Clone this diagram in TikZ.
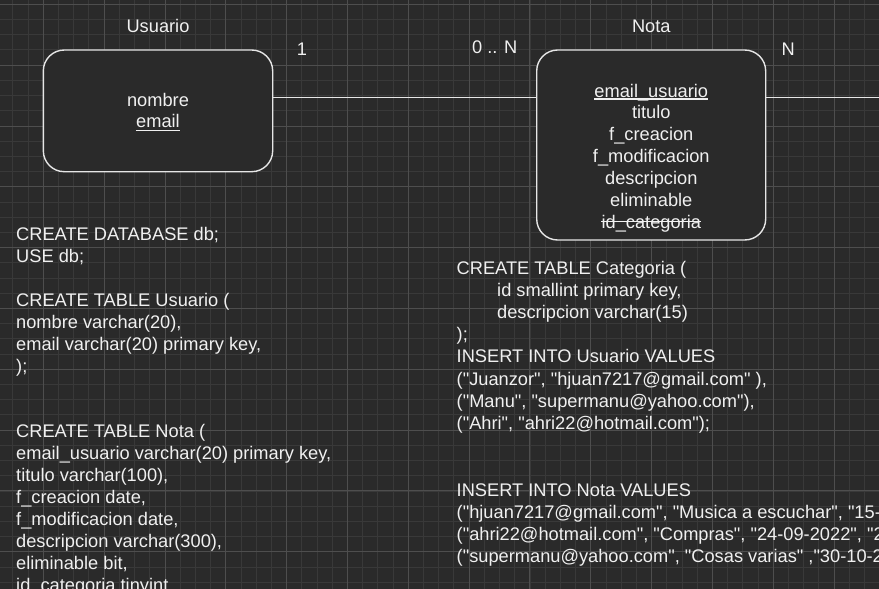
\documentclass[tikz,border=0pt]{standalone}
\usepackage{fontspec}
\newfontfamily\diagfont{Liberation Sans}
\definecolor{bg}{HTML}{2A2A2A}
\definecolor{gminor}{HTML}{393939}
\definecolor{gmajor}{HTML}{4E4E4E}
\definecolor{fg}{HTML}{F0F0F0}
\definecolor{edge}{HTML}{E6E6E6}
\begin{document}
\begin{tikzpicture}[x=1pt,y=-1pt,
  txt/.style={text=fg, inner sep=0pt, font=\diagfont\fontsize{18.25}{21.9}\selectfont},
  entity/.style={draw=edge, fill=bg, line width=1.4pt, rounded corners=21pt, inner sep=0pt},
  link/.style={draw=edge, line width=1.4pt},
  minorline/.style={draw=gminor, line width=0.9pt},
  majorline/.style={draw=gmajor, line width=0.9pt},
  rule/.style={draw=fg, line width=1.1pt}]
\useasboundingbox (0,0) rectangle (879,589);
\clip (0,0) rectangle (879,589);
\fill[bg] (0,0) rectangle (879,589);
% grid
\foreach \i in {0,...,57} \draw[minorline] ({12.88+\i*15.208},0) -- ++(0,589);
\foreach \i in {0,...,38} \draw[minorline] (0,{4.3+\i*15.208}) -- ++(879,0);
\foreach \i in {0,...,13} \draw[majorline] ({43.3+\i*60.83},0) -- ++(0,589);
\foreach \i in {0,...,9} \draw[majorline] (0,{4.3+\i*60.83}) -- ++(879,0);
% entities
\node[entity, minimum width=229.4pt, minimum height=121.7pt] (usuario) at (158,110.85) {};
\node[entity, minimum width=229pt, minimum height=190pt] (nota) at (651.2,145) {};
% connectors
\coordinate (lvl) at (0,97.5);
\coordinate (rend) at (882,97.5);
\draw[link] (usuario.east |- lvl) -- (nota.west |- lvl);
\draw[link] (nota.east |- lvl) -- (rend);
% titles and cardinalities
\node[txt, anchor=base] (tusu) at (158,32.7) {Usuario};
\node[txt, anchor=base] (tnota) at (651.3,32.7) {Nota};
\node[txt, anchor=base] (c1) at (302,55) {1};
\node[txt, anchor=base] (c0n) at (494.7,53.3) {0 .. N};
\node[txt, anchor=base] (cn) at (788.3,55) {N};
% Usuario attributes
\node[txt, anchor=base] (unombre) at (158,106) {nombre};
\node[txt, anchor=base] (uemail) at (158,127.9) {email};
\draw[rule] ([yshift=-2.3pt]uemail.base west) -- ([yshift=-2.3pt]uemail.base east);
% Nota attributes
\node[txt, anchor=base] (n0) at (651.3,97) {email\_usuario};
\node[txt, anchor=base] (n1) at (651.3,118.9) {titulo};
\node[txt, anchor=base] (n2) at (651.3,140.8) {f\_creacion};
\node[txt, anchor=base] (n3) at (651.3,162.7) {f\_modificacion};
\node[txt, anchor=base] (n4) at (651.3,184.6) {descripcion};
\node[txt, anchor=base] (n5) at (651.3,206.5) {eliminable};
\node[txt, anchor=base] (n6) at (651.3,228.4) {id\_categoria};
\draw[rule] ([yshift=-2pt]n0.base west) -- ([yshift=-2pt]n0.base east);
\draw[rule] ([yshift=7pt]n6.base west) -- ([yshift=7pt]n6.base east);
% left SQL block
\foreach \k/\t in {0/{CREATE DATABASE db;}, 1/{USE db;},
  3/{CREATE TABLE Usuario (}, 4/{nombre varchar(20),}, 5/{email varchar(20) primary key,}, 6/{);},
  9/{CREATE TABLE Nota (}, 10/{email\_usuario varchar(20) primary key,}, 11/{titulo varchar(100),},
  12/{f\_creacion date,}, 13/{f\_modificacion date,}, 14/{descripcion varchar(300),},
  15/{eliminable bit,}, 16/{id\_categoria tinyint}}
  \node[txt, anchor=base west] (left\k) at (16,{240.6+\k*21.9}) {\t};
% right SQL block
\foreach \k/\x/\t in {0/456.5/{CREATE TABLE Categoria (}, 1/497/{id smallint primary key,},
  2/497/{descripcion varchar(15)}, 3/456.5/{);}, 4/456.5/{INSERT INTO Usuario VALUES},
  5/456.5/{("Juanzor", "hjuan7217@gmail.com" ),}, 6/456.5/{("Manu", "supermanu@yahoo.com"),},
  7/456.5/{("Ahri", "ahri22@hotmail.com");}, 10/456.5/{INSERT INTO Nota VALUES},
  11/456.5/{("hjuan7217@gmail.com", "Musica a escuchar", "15-},
  12/456.5/{("ahri22@hotmail.com", "Compras", "24-09-2022", "2},
  13/456.5/{("supermanu@yahoo.com", "Cosas varias" ,"30-10-2}}
  \node[txt, anchor=base west] (right\k) at (\x,{274+\k*22.2}) {\t};
\end{tikzpicture}
\end{document}
